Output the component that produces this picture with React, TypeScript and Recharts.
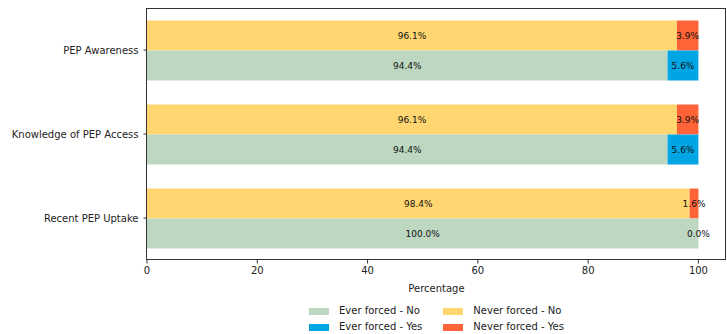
import { BarChart, Bar, XAxis, YAxis, LabelList } from 'recharts';

const categories = ['PEP Awareness', 'Knowledge of PEP Access', 'Recent PEP Uptake'];
const neverNo = [96.1, 96.1, 98.4];
const neverYes = [3.9, 3.9, 1.6];
const everNo = [94.4, 94.4, 100.0];
const everYes = [5.6, 5.6, 0.0];
const xTicks = [0, 20, 40, 60, 80, 100];

const colors = {
  everNo: '#BDD7C0',
  everYes: '#00A6E4',
  neverNo: '#FFD670',
  neverYes: '#FF6338',
};

const data = categories.map((name, i) => ({
  name,
  neverNo: neverNo[i],
  neverYes: neverYes[i],
  everNo: everNo[i],
  everYes: everYes[i],
}));

// legend order as in the original (two columns, filled row by row)
const legendItems = [
  { label: 'Ever forced - No', color: colors.everNo },
  { label: 'Never forced - No', color: colors.neverNo },
  { label: 'Ever forced - Yes', color: colors.everYes },
  { label: 'Never forced - Yes', color: colors.neverYes },
];

const fmt = (v: any) => `${Number(v).toFixed(1)}%`;

const labelStyle = { fontSize: 9, fill: '#111' };

// zero-width segments get no rect, so put their label at the end of the "No" bar
function ZeroYesLabel(props: any) {
  const { x, y, width, height, index } = props;
  if (everYes[index] !== 0) return null;
  return (
    <text x={x + width} y={y + height / 2} dy="0.35em" textAnchor="middle" {...labelStyle}>
      {fmt(everYes[index])}
    </text>
  );
}

function YTick(props: any) {
  const { x, y, payload } = props;
  return (
    <text x={x} y={y} dy="0.35em" textAnchor="end" fontSize={10} fill="#222">
      {payload.value}
    </text>
  );
}

export default function App() {
  return (
    <div
      style={{
        position: 'absolute',
        left: 0,
        top: 0,
        width: 727,
        height: 334,
        overflow: 'hidden',
        fontFamily: '"DejaVu Sans", sans-serif',
      }}
    >
      <BarChart
        width={727}
        height={296}
        data={data}
        layout="vertical"
        margin={{ top: 8, right: 1, left: 0, bottom: 0 }}
        barCategoryGap={12.5}
        barGap={0}
      >
        <XAxis
          type="number"
          domain={[0, 105]}
          ticks={xTicks}
          height={36}
          axisLine={false}
          tickSize={3.5}
          tickMargin={3.5}
          tick={{ fontSize: 10, fill: '#222' }}
          tickLine={{ stroke: '#333' }}
          label={{ value: 'Percentage', position: 'insideBottom', offset: 4, fontSize: 10, fill: '#222' }}
        />
        <YAxis
          type="category"
          dataKey="name"
          width={147}
          interval={0}
          axisLine={false}
          tickSize={3.5}
          tickMargin={5}
          tick={<YTick />}
          tickLine={{ stroke: '#333' }}
        />
        <Bar dataKey="neverNo" stackId="never" fill={colors.neverNo} isAnimationActive={false}>
          <LabelList dataKey="neverNo" position="center" formatter={fmt} {...labelStyle} />
        </Bar>
        <Bar dataKey="neverYes" stackId="never" fill={colors.neverYes} isAnimationActive={false}>
          <LabelList dataKey="neverYes" position="center" formatter={fmt} {...labelStyle} />
        </Bar>
        <Bar dataKey="everNo" stackId="ever" fill={colors.everNo} isAnimationActive={false}>
          <LabelList dataKey="everNo" position="center" formatter={fmt} {...labelStyle} />
          <LabelList dataKey="everNo" content={<ZeroYesLabel />} />
        </Bar>
        <Bar dataKey="everYes" stackId="ever" fill={colors.everYes} isAnimationActive={false}>
          <LabelList dataKey="everYes" position="center" formatter={fmt} {...labelStyle} />
        </Bar>
      </BarChart>
      {/* axes frame (all four spines) */}
      <div
        style={{
          position: 'absolute',
          left: 146,
          top: 8,
          width: 580,
          height: 252,
          border: '1px solid #333',
          boxSizing: 'border-box',
          pointerEvents: 'none',
        }}
      />
      <div style={{ marginLeft: 147, width: 579, display: 'flex', justifyContent: 'center', paddingTop: 7 }}>
        <div style={{ display: 'grid', gridTemplateColumns: 'auto auto', columnGap: 21, fontSize: 10, lineHeight: '16px', color: '#222' }}>
          {legendItems.map((it) => (
            <div key={it.label} style={{ display: 'flex', alignItems: 'center' }}>
              <span style={{ display: 'inline-block', width: 20, height: 7, background: it.color, marginRight: 10 }} />
              <span>{it.label}</span>
            </div>
          ))}
        </div>
      </div>
    </div>
  );
}
